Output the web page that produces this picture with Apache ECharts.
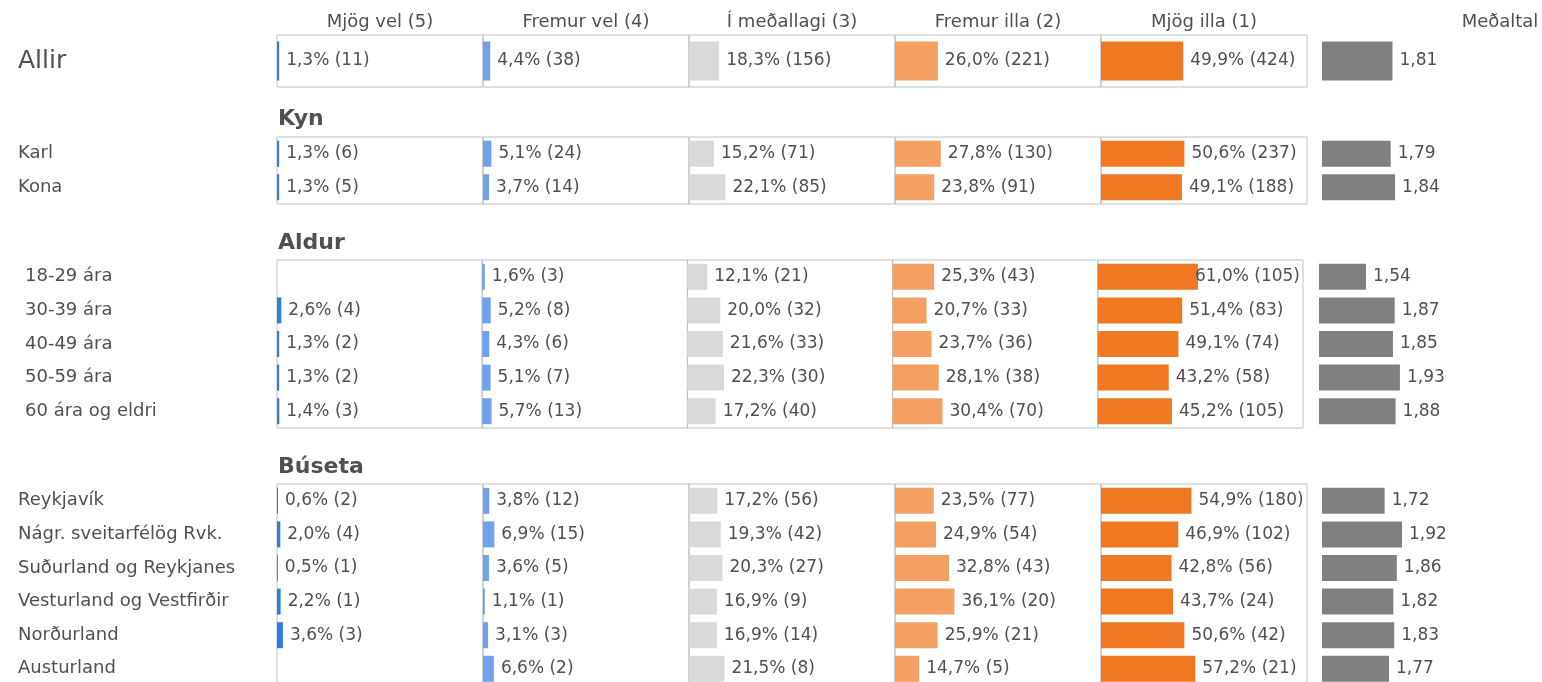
<!DOCTYPE html>
<html>
<head>
<meta charset="utf-8">
<script src="https://cdn.jsdelivr.net/npm/echarts@6/dist/echarts.min.js"></script>
<style>
  html, body { margin: 0; padding: 0; background: #fff; }
  #main { width: 1542px; height: 682px; }
</style>
</head>
<body>
<div id="main"></div>
<script>
// column headers and colours
var colNames = ['Mjög vel (5)', 'Fremur vel (4)', 'Í meðallagi (3)', 'Fremur illa (2)', 'Mjög illa (1)']
var meanName = 'Meðaltal'
var colColors = ['#2F7BE6', '#70A1EC', '#D9D9D9', '#F4A062', '#F07822']
var meanColor = '#808080'

// Allir
var allirRows = ['Allir']
var allirPct = [[1.3, 4.4, 18.3, 26.0, 49.9]]
var allirN = [[11, 38, 156, 221, 424]]
var allirMean = [1.81]

// Kyn
var kynRows = ['Karl', 'Kona']
var kynPct = [
  [1.3, 5.1, 15.2, 27.8, 50.6],
  [1.3, 3.7, 22.1, 23.8, 49.1]
]
var kynN = [
  [6, 24, 71, 130, 237],
  [5, 14, 85, 91, 188]
]
var kynMean = [1.79, 1.84]

// Aldur
var aldurRows = ['18-29 ára', '30-39 ára', '40-49 ára', '50-59 ára', '60 ára og eldri']
var aldurPct = [
  [null, 1.6, 12.1, 25.3, 61.0],
  [2.6, 5.2, 20.0, 20.7, 51.4],
  [1.3, 4.3, 21.6, 23.7, 49.1],
  [1.3, 5.1, 22.3, 28.1, 43.2],
  [1.4, 5.7, 17.2, 30.4, 45.2]
]
var aldurN = [
  [null, 3, 21, 43, 105],
  [4, 8, 32, 33, 83],
  [2, 6, 33, 36, 74],
  [2, 7, 30, 38, 58],
  [3, 13, 40, 70, 105]
]
var aldurMean = [1.54, 1.87, 1.85, 1.93, 1.88]

// Búseta
var busetaRows = ['Reykjavík', 'Nágr. sveitarfélög Rvk.', 'Suðurland og Reykjanes', 'Vesturland og Vestfirðir', 'Norðurland', 'Austurland']
var busetaPct = [
  [0.6, 3.8, 17.2, 23.5, 54.9],
  [2.0, 6.9, 19.3, 24.9, 46.9],
  [0.5, 3.6, 20.3, 32.8, 42.8],
  [2.2, 1.1, 16.9, 36.1, 43.7],
  [3.6, 3.1, 16.9, 25.9, 50.6],
  [null, 6.6, 21.5, 14.7, 57.2]
]
var busetaN = [
  [2, 12, 56, 77, 180],
  [4, 15, 42, 54, 102],
  [1, 5, 27, 43, 56],
  [1, 1, 9, 20, 24],
  [3, 3, 14, 21, 42],
  [null, 2, 8, 5, 21]
]
var busetaMean = [1.72, 1.92, 1.86, 1.82, 1.83, 1.77]

var FONT = 'DejaVu Sans'
var TXT = '#505050'

// layout per section
var sections = [
  { title: '', rows: allirRows, pct: allirPct, n: allirN, mean: allirMean, top: 35, pitch: 52, barW: 39, colW: 206, meanLeft: 1322, labelX: 18, labelSize: 25, titleY: 0 },
  { title: 'Kyn', rows: kynRows, pct: kynPct, n: kynN, mean: kynMean, top: 137, pitch: 33.5, barW: 26, colW: 206, meanLeft: 1322, labelX: 18, labelSize: 18, titleY: 119 },
  { title: 'Aldur', rows: aldurRows, pct: aldurPct, n: aldurN, mean: aldurMean, top: 260, pitch: 33.6, barW: 26, colW: 205.2, meanLeft: 1319, labelX: 25, labelSize: 18, titleY: 243 },
  { title: 'Búseta', rows: busetaRows, pct: busetaPct, n: busetaN, mean: busetaMean, top: 484, pitch: 33.6, barW: 26, colW: 206, meanLeft: 1322, labelX: 18, labelSize: 18, titleY: 467 }
]
var LEFT = 277

function fmt(v, d) {
  return v.toFixed(d).replace('.', ',')
}

var grid = [], xAxis = [], yAxis = [], series = [], graphic = []

sections.forEach(function (s) {
  var h = s.rows.length * s.pitch
  for (var c = 0; c < 6; c++) {
    var gi = grid.length
    var isMean = c === 5
    var gLeft = isMean ? s.meanLeft : LEFT + c * s.colW
    var gWidth = isMean ? 174 : s.colW
    grid.push({
      left: gLeft,
      top: s.top,
      width: gWidth,
      height: h,
      show: !isMean,
      borderColor: '#BFBFBF',
      borderWidth: 1,
      containLabel: false,
      outerBoundsMode: 'none'
    })
    xAxis.push({
      gridIndex: gi,
      type: 'value',
      min: isMean ? 1 : 0,
      max: isMean ? 3 : 125,
      show: false
    })
    yAxis.push({
      gridIndex: gi,
      type: 'category',
      data: s.rows,
      inverse: true,
      axisLine: { show: false },
      axisTick: { show: false },
      splitLine: { show: false },
      axisLabel: c === 0 ? {
        show: true,
        align: 'left',
        margin: LEFT - s.labelX,
        fontSize: s.labelSize,
        fontFamily: FONT,
        color: TXT
      } : { show: false }
    })
    var data, labelFn
    if (isMean) {
      data = s.mean
      labelFn = function (p) { return fmt(p.value, 2) }
    } else {
      data = s.pct.map(function (r) { return r[c] })
      labelFn = (function (sec, col) {
        return function (p) {
          if (p.value == null) return ''
          return fmt(p.value, 1) + '% (' + sec.n[p.dataIndex][col] + ')'
        }
      })(s, c)
    }
    // keep labels inside their box, like the 61,0% one
    var boxRight = gLeft + gWidth
    series.push({
      type: 'bar',
      xAxisIndex: gi,
      yAxisIndex: gi,
      data: data,
      barWidth: s.barW,
      silent: true,
      itemStyle: { color: isMean ? meanColor : colColors[c] },
      label: {
        show: true,
        position: 'right',
        distance: 7,
        formatter: labelFn,
        fontSize: 17,
        fontFamily: FONT,
        color: TXT
      },
      labelLayout: isMean ? null : (function (right) {
        return function (p) {
          var r = p.labelRect
          if (r.x + r.width > right - 2) {
            return { x: right - 3 - r.width, y: r.y + r.height / 2, align: 'left', verticalAlign: 'middle' }
          }
          return {}
        }
      })(boxRight)
    })
  }
  if (s.title) {
    graphic.push({
      type: 'text',
      x: 278,
      y: s.titleY,
      silent: true,
      style: { text: s.title, fill: TXT, fontSize: 22, fontWeight: 'bold', fontFamily: FONT, align: 'left', verticalAlign: 'middle' }
    })
  }
})

colNames.forEach(function (name, c) {
  graphic.push({
    type: 'text',
    x: LEFT + (c + 0.5) * 206,
    y: 22,
    silent: true,
    style: { text: name, fill: TXT, fontSize: 18, fontFamily: FONT, align: 'center', verticalAlign: 'middle' }
  })
})
graphic.push({
  type: 'text',
  x: 1500,
  y: 22,
  silent: true,
  style: { text: meanName, fill: TXT, fontSize: 18, fontFamily: FONT, align: 'center', verticalAlign: 'middle' }
})

var myChart = echarts.init(document.getElementById('main'))
var option = {
  animation: false,
  backgroundColor: '#fff',
  grid: grid,
  xAxis: xAxis,
  yAxis: yAxis,
  series: series,
  graphic: graphic
}
myChart.setOption(option)
</script>
</body>
</html>
